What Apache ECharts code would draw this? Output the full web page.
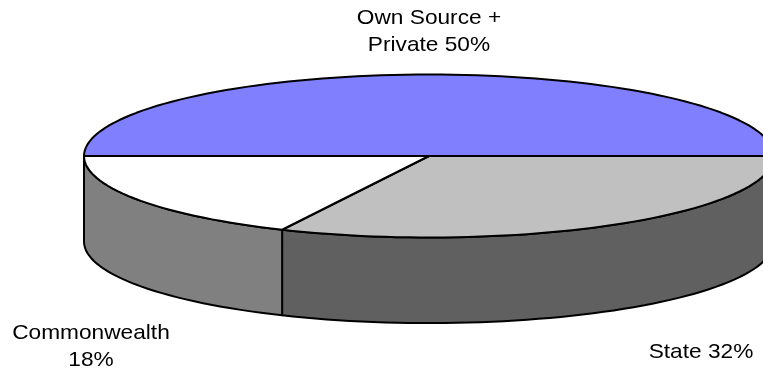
<!DOCTYPE html>
<html><head><meta charset="utf-8">
<style>html,body{margin:0;padding:0;background:#fff}#c{width:763px;height:369px}</style>
<script src="https://cdn.jsdelivr.net/npm/echarts@6/dist/echarts.min.js"></script>
</head><body><div id="c"></div>
<script>
var categories = ['Own Source +\nPrivate 50%', 'State 32%', 'Commonwealth\n18%'];
var values = [50, 32, 18];
var topColors = ['#8080FF', '#C0C0C0', '#FFFFFF'];
var sideColors = ['#404080', '#606060', '#808080'];

var chart = echarts.init(document.getElementById('c'), null, {renderer: 'canvas'});
var total = values.reduce(function (a, b) { return a + b; }, 0);
var startDeg = 180;
var STEP = 2;
var DEPTH = 1.05;

var slices = [];
var acc = 0;
values.forEach(function (v, i) {
  var a0 = startDeg + acc / total * 360;
  acc += v;
  slices.push({a0: a0, a1: startDeg + acc / total * 360, i: i});
});

function rim(a0, a1, depth, api) {
  var pts = [];
  var n = Math.max(2, Math.ceil((a1 - a0) / STEP));
  for (var k = 0; k <= n; k++) {
    var a = (a0 + (a1 - a0) * k / n) * Math.PI / 180;
    pts.push(api.coord([Math.cos(a), -Math.sin(a) - depth]));
  }
  return pts;
}
var style = function (fill) { return {fill: fill, stroke: '#000', lineWidth: 2, lineJoin: 'round'}; };

chart.setOption({
  animation: false,
  grid: {left: 84, top: 74.5, right: 0, height: 163},
  xAxis: {type: 'value', min: -1, max: 0.9681, show: false},
  yAxis: {type: 'value', min: -1, max: 1, show: false},
  series: [{
    type: 'custom',
    coordinateSystem: 'cartesian2d',
    clip: false,
    silent: true,
    data: values.map(function (v, i) { return [i, v]; }),
    encode: {x: 0, y: 1},
    renderItem: function (params, api) {
      if (params.dataIndex !== 0) return null;
      var children = [];
      slices.forEach(function (s) {
        var a0 = Math.max(s.a0, 360), a1 = s.a1;
        if (a1 <= 360) return;
        var top = rim(a0, a1, 0, api);
        var bottom = rim(a0, a1, DEPTH, api).reverse();
        children.push({type: 'polygon', shape: {points: top.concat(bottom)}, style: style(sideColors[s.i])});
      });
      var centre = api.coord([0, 0]);
      slices.forEach(function (s) {
        children.push({type: 'polygon', shape: {points: [centre].concat(rim(s.a0, s.a1, 0, api))}, style: style(topColors[s.i])});
      });
      return {type: 'group', children: children};
    }
  }]
});

var labelPos = [[429, 32], [701, 352], [91, 346.5]];
chart.setOption({
  graphic: categories.map(function (c, i) {
    return {
      type: 'text', x: labelPos[i][0], y: labelPos[i][1], scaleX: 1.08, silent: true,
      style: {text: c, fill: '#000', font: '21px "Liberation Sans", Arial, sans-serif',
        align: 'center', verticalAlign: 'middle', lineHeight: 27}
    };
  })
});
</script></body></html>
